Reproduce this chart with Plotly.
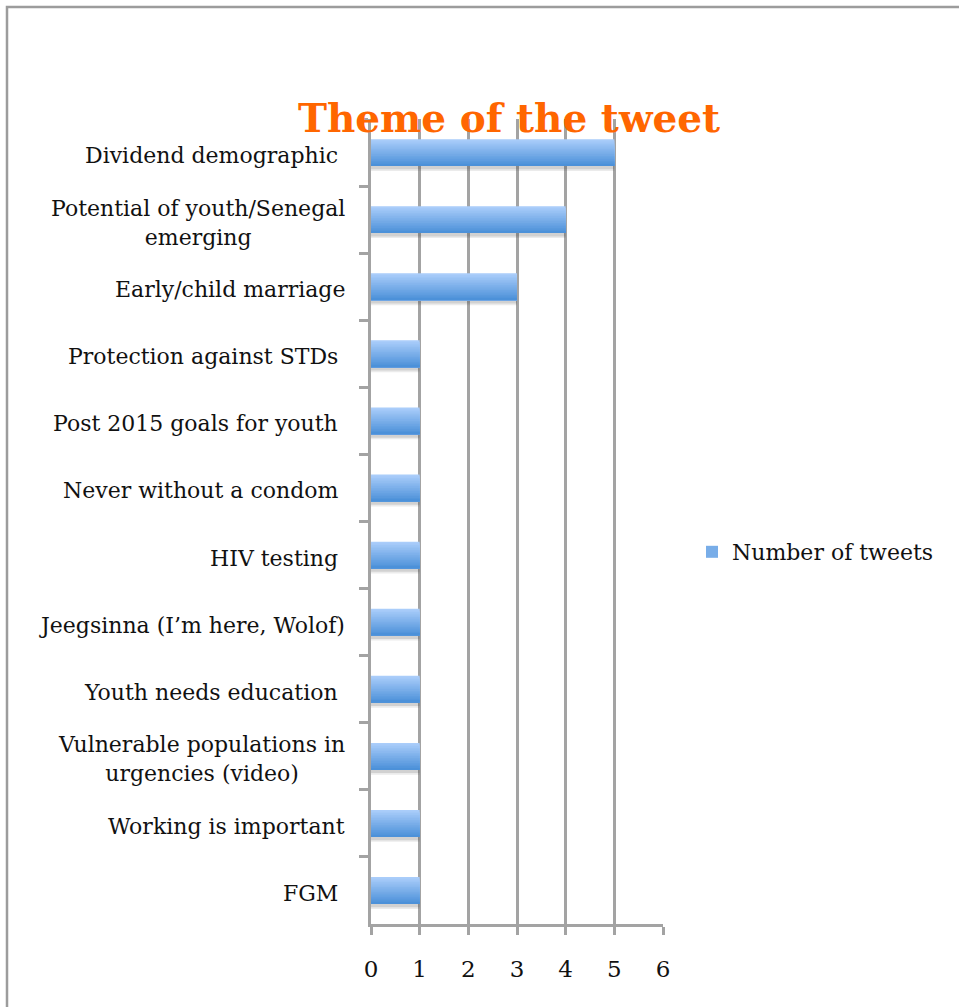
import plotly.graph_objects as go

# Tweet themes (top to bottom) and how many tweets fell under each
themes = [
    "Dividend demographic",
    "Potential of youth/Senegal emerging",
    "Early/child marriage",
    "Protection against STDs",
    "Post 2015 goals for youth",
    "Never without a condom",
    "HIV testing",
    "Jeegsinna (I’m here, Wolof)",
    "Youth needs education",
    "Vulnerable populations in urgencies (video)",
    "Working is important",
    "FGM",
]
theme_labels = [
    "Dividend demographic\u00a0",
    "Potential of youth/Senegal<br>emerging",
    "Early/child marriage",
    "Protection against STDs\u00a0",
    "Post 2015 goals for youth\u00a0",
    "Never without a condom\u00a0",
    "HIV testing\u00a0",
    "Jeegsinna (I’m here, Wolof)",
    "Youth needs education\u00a0",
    "Vulnerable populations in<br>urgencies (video)",
    "Working is important",
    "FGM\u00a0",
]
tweets = [5, 4, 3, 1, 1, 1, 1, 1, 1, 1, 1, 1]
x_ticks = [0, 1, 2, 3, 4, 5, 6]

SERIF = "DejaVu Serif"
GRID = "#a3a3a3"
BAR_W = 0.4
TOP_RGB = (170, 205, 250)
BOT_RGB = (76, 145, 217)
N_SLICES = 16

fig = go.Figure()

# soft drop shadow under each bar
for shift, alpha in [(0.075, 0.10), (0.05, 0.14)]:
    fig.add_trace(go.Bar(
        y=themes, x=tweets, orientation="h",
        width=BAR_W, offset=-BAR_W / 2 + shift,
        marker=dict(color=f"rgba(60,60,60,{alpha})", line=dict(width=0)),
        showlegend=False, hoverinfo="skip",
    ))

# vertical gradient fill: each slice runs from its own top edge down to the
# bar's bottom edge, and the next (darker) slice is laid over it
h = BAR_W / N_SLICES
for i in range(N_SLICES):
    t = i / (N_SLICES - 1)
    r, g, b = (round(TOP_RGB[c] + (BOT_RGB[c] - TOP_RGB[c]) * t) for c in range(3))
    fig.add_trace(go.Bar(
        y=themes, x=tweets, orientation="h",
        width=BAR_W - i * h, offset=-BAR_W / 2 + i * h,
        marker=dict(color=f"rgb({r},{g},{b})", line=dict(width=0)),
        name="Number of tweets",
        showlegend=(i == N_SLICES // 2),
        hoverinfo="skip",
    ))

# category labels, centred line by line, to the left of the axis
for key, label in zip(themes, theme_labels):
    fig.add_annotation(
        x=0, y=key, xref="x", yref="y",
        text=label, showarrow=False,
        xanchor="right", yanchor="middle", align="center",
        xshift=-24, yshift=-3,
        font=dict(family=SERIF, size=22, color="#111111"),
    )

# outer chart frame
fig.add_shape(
    type="rect", xref="paper", yref="paper",
    x0=(7 - 371) / 292, x1=2.5, y0=-0.3, y1=(924 - 7) / 805,
    line=dict(color="#9c9c9c", width=2.5), fillcolor="rgba(0,0,0,0)",
    layer="below",
)

fig.update_layout(
    width=959, height=1007,
    margin=dict(l=371, r=296, t=119, b=83),
    paper_bgcolor="white", plot_bgcolor="white",
    barmode="overlay",
    hovermode=False,
    title=dict(
        text="<b>Theme of the tweet</b>",
        font=dict(family=SERIF, size=39, color="#FF6600"),
        xref="container", yref="container",
        x=509 / 959, y=1 - 118 / 1007,
        xanchor="center", yanchor="middle",
    ),
    legend=dict(
        x=(692 - 371) / 292, y=(924 - 552) / 805,
        xanchor="left", yanchor="middle",
        font=dict(family=SERIF, size=22, color="#111111"),
        bgcolor="rgba(0,0,0,0)",
        itemwidth=30,
    ),
    xaxis=dict(
        range=[0, 6], tickvals=x_ticks,
        showgrid=True, gridcolor=GRID, gridwidth=2.5,
        showline=True, linecolor=GRID, linewidth=2.5,
        ticks="outside", ticklen=8, tickwidth=2.5, tickcolor=GRID,
        ticklabelstandoff=15,
        tickfont=dict(family=SERIF, size=23, color="#111111"),
        zeroline=False, fixedrange=True,
    ),
    yaxis=dict(
        categoryorder="array", categoryarray=themes,
        autorange="reversed",
        showgrid=False, zeroline=False,
        showline=True, linecolor=GRID, linewidth=2.5,
        ticks="outside", ticklen=9, tickwidth=2.5, tickcolor=GRID,
        tickson="boundaries",
        showticklabels=False, fixedrange=True,
    ),
)

fig.write_html("out.html")
